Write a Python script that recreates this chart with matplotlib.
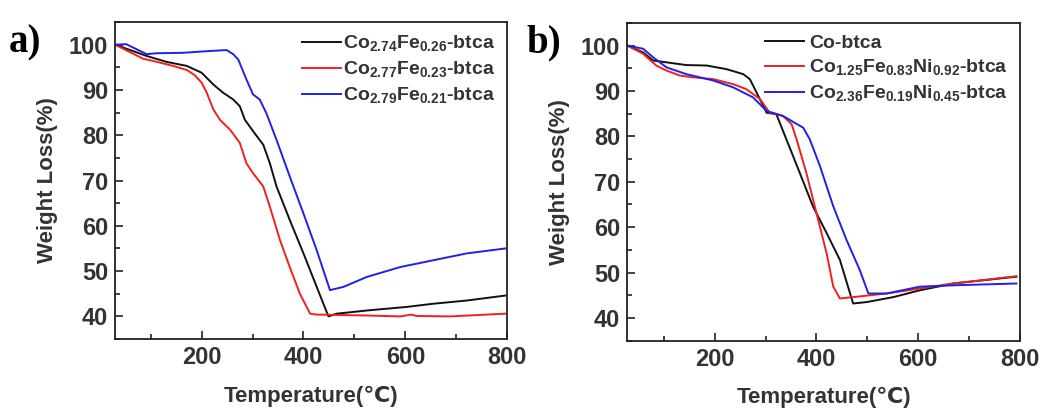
import matplotlib
matplotlib.use('Agg')
import matplotlib.pyplot as plt
from matplotlib.ticker import MultipleLocator

plt.rcParams['font.family'] = ['Liberation Sans', 'DejaVu Sans']
plt.rcParams['font.weight'] = 'bold'
plt.rcParams['axes.labelweight'] = 'bold'
plt.rcParams['mathtext.fontset'] = 'custom'
plt.rcParams['mathtext.rm'] = 'Liberation Sans'

TXT = '#333333'

# ---- panel a: CoFe-btca samples ----
a_black_t = [30, 92, 131, 171, 200, 223, 242, 262, 275, 285, 301, 321, 334, 347, 373, 400, 426, 449, 465, 524, 603, 655, 720, 796]
a_black_w = [100, 97.5, 96.2, 95.3, 93.8, 91.2, 89.4, 87.9, 86.4, 83.4, 80.9, 77.9, 73.8, 68.7, 61.3, 53.9, 46.5, 40.0, 40.6, 41.3, 42.1, 42.8, 43.5, 44.6]

a_red_t = [30, 85, 112, 144, 171, 187, 200, 210, 223, 236, 256, 275, 288, 301, 321, 334, 354, 373, 393, 413, 426, 524, 590, 612, 622, 688, 796]
a_red_w = [100, 96.9, 96.2, 95.3, 94.4, 93.2, 91.6, 89.4, 85.7, 83.4, 81.2, 78.3, 73.8, 71.6, 68.7, 64.2, 56.8, 50.9, 45.0, 40.6, 40.4, 40.2, 40.0, 40.4, 40.1, 40.0, 40.6]

a_blue_t = [30, 52, 92, 112, 164, 216, 249, 262, 272, 288, 301, 314, 327, 347, 373, 400, 426, 452, 478, 524, 590, 655, 720, 796]
a_blue_w = [100, 100.1, 97.9, 98.1, 98.2, 98.6, 98.8, 97.9, 96.7, 92.3, 89.0, 87.9, 84.9, 79.0, 70.9, 62.7, 54.6, 45.8, 46.5, 48.7, 50.9, 52.4, 53.9, 55.0]

a_labels = [r'Co$_{\mathregular{2.74}}$Fe$_{\mathregular{0.26}}$-btca',
            r'Co$_{\mathregular{2.77}}$Fe$_{\mathregular{0.23}}$-btca',
            r'Co$_{\mathregular{2.79}}$Fe$_{\mathregular{0.21}}$-btca']

# ---- panel b: Co / CoFeNi-btca samples ----
b_black_t = [28, 59, 79, 105, 144, 184, 223, 256, 269, 282, 302, 321, 341, 367, 393, 420, 446, 472, 498, 551, 603, 669, 793]
b_black_w = [100, 98.5, 96.7, 96.3, 95.7, 95.6, 94.8, 93.7, 92.6, 89.7, 85.2, 84.9, 79.3, 72.0, 64.6, 58.7, 52.8, 43.2, 43.5, 44.6, 46.1, 47.6, 49.1]

b_red_t = [28, 59, 85, 105, 131, 157, 197, 236, 262, 289, 308, 334, 351, 361, 380, 400, 420, 433, 446, 472, 538, 603, 669, 793]
b_red_w = [100, 98.2, 95.6, 94.5, 93.4, 93.0, 92.6, 91.5, 90.4, 88.2, 85.2, 84.5, 82.7, 79.3, 72.0, 63.1, 54.2, 46.9, 44.3, 44.6, 45.4, 46.5, 47.6, 49.2]

b_blue_t = [28, 59, 79, 105, 144, 197, 236, 275, 302, 334, 374, 387, 407, 433, 459, 485, 502, 538, 603, 669, 793]
b_blue_w = [100, 99.3, 97.4, 95.2, 93.7, 92.3, 90.8, 88.6, 85.6, 84.5, 81.9, 79.3, 73.4, 64.6, 57.2, 50.6, 45.4, 45.4, 46.9, 47.2, 47.6]

b_labels = ['Co-btca',
            r'Co$_{\mathregular{1.25}}$Fe$_{\mathregular{0.83}}$Ni$_{\mathregular{0.92}}$-btca',
            r'Co$_{\mathregular{2.36}}$Fe$_{\mathregular{0.19}}$Ni$_{\mathregular{0.45}}$-btca']

colors = ['#111111', '#f02020', '#2020e8']

fig = plt.figure(figsize=(10.43, 4.15), dpi=100)
axa = fig.add_axes([0.1103, 0.183, 0.376, 0.764])
axb = fig.add_axes([0.6014, 0.179, 0.3765, 0.766])


def style(ax, xmin):
    ax.set_xlim(xmin, 800)
    ax.set_ylim(35, 105)
    ax.xaxis.set_major_locator(MultipleLocator(200))
    ax.xaxis.set_minor_locator(MultipleLocator(100))
    ax.yaxis.set_major_locator(MultipleLocator(10))
    ax.yaxis.set_minor_locator(MultipleLocator(5))
    ax.tick_params(which='both', direction='in', colors='#222222', labelcolor=TXT,
                   labelsize=17, width=1.2)
    ax.tick_params(which='major', length=6, pad=5)
    ax.tick_params(which='minor', length=3.5)
    for s in ax.spines.values():
        s.set_linewidth(1.3)
        s.set_color('#222222')
    ax.set_yticks([40, 50, 60, 70, 80, 90, 100])
    ax.set_xticks([200, 400, 600, 800])
    ax.set_xlabel('Temperature(\u2103)', fontsize=16, color=TXT, labelpad=12)
    ax.set_ylabel('Weight Loss(%)', fontsize=16, color=TXT, labelpad=8)


for ax, series, labels, xmin in [
        (axa, [(a_black_t, a_black_w), (a_red_t, a_red_w), (a_blue_t, a_blue_w)], a_labels, 30),
        (axb, [(b_black_t, b_black_w), (b_red_t, b_red_w), (b_blue_t, b_blue_w)], b_labels, 28)]:
    for (t, w), c, lab in zip(series, colors, labels):
        ax.plot(t, w, color=c, lw=1.4, label=lab)
    style(ax, xmin)

axa.legend(loc='upper right', frameon=False, fontsize=14, handlelength=2.0,
           handletextpad=0.15, labelspacing=0.3, borderaxespad=0.2,
           labelcolor=TXT)
axb.legend(loc='upper right', frameon=False, fontsize=14, handlelength=2.0,
           handletextpad=0.3, labelspacing=0.3, borderaxespad=0.2,
           labelcolor=TXT)

fig.text(0.008, 0.94, 'a)', family='Liberation Serif', fontsize=28, weight='bold', va='top')
fig.text(0.505, 0.94, 'b)', family='Liberation Serif', fontsize=28, weight='bold', va='top')

fig.savefig('out.png', dpi=100)
